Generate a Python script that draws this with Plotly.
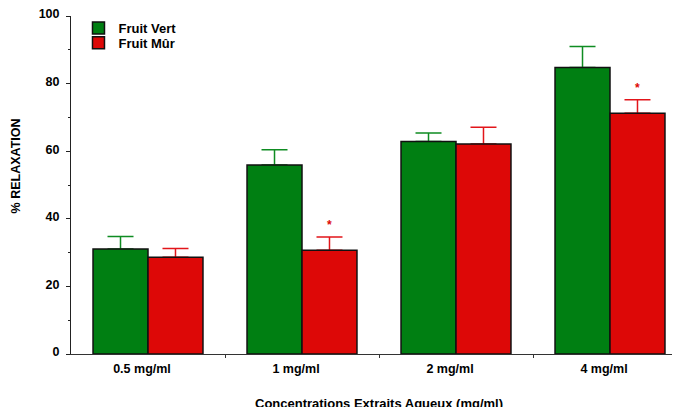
import plotly.graph_objects as go

# ---- data ----
categories = ["0.5 mg/ml", "1 mg/ml", "2 mg/ml", "4 mg/ml"]
vert = [31.1, 55.9, 62.9, 84.8]
vert_err = [3.7, 4.5, 2.5, 6.2]
mur = [28.6, 30.7, 62.1, 71.2]
mur_err = [2.6, 3.9, 5.0, 4.0]
mur_signif = [False, True, False, True]
y_ticks = [0, 20, 40, 60, 80, 100]
y_minor = [10, 30, 50, 70, 90]

GREEN = "#007f12"
RED = "#dd0807"
GREEN_ERR = "#0f8c22"
RED_ERR = "#e2151a"
FONT = "Arial, Liberation Sans, sans-serif"

xpos = list(range(len(categories)))
BW = 0.357

fig = go.Figure()

# error bars first (underneath the bars so the bar outline covers the lower cap)
for vals, errs, col, off in [(vert, vert_err, GREEN_ERR, -BW), (mur, mur_err, RED_ERR, 0.0)]:
    fig.add_trace(go.Bar(
        x=xpos, y=vals, width=BW, offset=off,
        marker=dict(color="rgba(0,0,0,0)", line=dict(width=0)),
        error_y=dict(type="data", symmetric=False, array=errs,
                     arrayminus=[0] * len(errs), color=col, thickness=1.5, width=13),
        showlegend=False, hoverinfo="skip",
    ))

fig.add_trace(go.Bar(
    x=xpos, y=vert, width=BW, offset=-BW, name="Fruit Vert",
    marker=dict(color=GREEN, line=dict(color="#111111", width=1.5)),
    legend="legend",
))
fig.add_trace(go.Bar(
    x=xpos, y=mur, width=BW, offset=0.0, name="Fruit Mûr",
    marker=dict(color=RED, line=dict(color="#111111", width=1.5)),
    legend="legend2",
))

# significance stars
for i, (v, e, s) in enumerate(zip(mur, mur_err, mur_signif)):
    if s:
        fig.add_annotation(x=xpos[i] + BW / 2, y=v + e, text="<b>*</b>", showarrow=False,
                           yanchor="middle", yshift=12,
                           font=dict(family=FONT, size=12, color=RED))

# axis titles
fig.add_annotation(text="<b>Concentrations Extraits Aqueux (mg/ml)</b>", xref="paper", yref="paper",
                   x=0.5057, y=0, yanchor="middle", yshift=-49, showarrow=False,
                   font=dict(family=FONT, size=13, color="black"))
fig.add_annotation(text="<b>% RELAXATION</b>", xref="paper", yref="paper",
                   x=0, xanchor="center", xshift=-55, y=0.555, yanchor="middle", textangle=-90,
                   showarrow=False, font=dict(family=FONT, size=12.5, color="black"))

legfont = dict(family=FONT, size=13, color="black", weight="bold")
tickfont = dict(family=FONT, size=12.5, color="black")
fig.update_layout(
    width=672, height=399,
    margin=dict(l=63, r=0, t=8, b=53, pad=0, autoexpand=False),
    paper_bgcolor="white", plot_bgcolor="white",
    barmode="overlay",
    font=dict(family=FONT, size=12, color="black"),
    xaxis=dict(
        range=[-0.5, -0.5 + 609 / 154], tickmode="array", tickvals=xpos,
        ticktext=["<b>%s</b>" % c for c in categories], ticks="", showgrid=False,
        zeroline=False, showline=True, linecolor="#333333", linewidth=1,
        ticklabelshift=-6, ticklabelstandoff=3, automargin=False, ticklabeloverflow="allow",
        minor=dict(tickmode="array", tickvals=[i + 0.5 for i in xpos[:-1]],
                   ticks="outside", ticklen=3, tickcolor="#333333", showgrid=False),
        tickfont=tickfont,
    ),
    yaxis=dict(
        range=[0, 100], tickmode="array", tickvals=y_ticks,
        ticktext=["<b>%d</b>" % t for t in y_ticks],
        ticks="outside", ticklen=4, tickcolor="#222222", showgrid=False,
        zeroline=False, showline=True, linecolor="#222222", linewidth=1,
        ticklabelstandoff=4, ticklabelshift=-2, automargin=False, ticklabeloverflow="allow",
        minor=dict(tickmode="array", tickvals=y_minor, ticks="outside", ticklen=2,
                   tickcolor="#222222", showgrid=False),
        tickfont=tickfont,
    ),
    legend=dict(x=0.0123, y=1.0089, xref="paper", yref="paper", xanchor="left", yanchor="top",
                bgcolor="rgba(0,0,0,0)", font=legfont, itemclick=False),
    legend2=dict(x=0.0123, y=0.9654, xref="paper", yref="paper", xanchor="left", yanchor="top",
                 bgcolor="rgba(0,0,0,0)", font=legfont, itemclick=False),
)

fig.write_html("out.html")
